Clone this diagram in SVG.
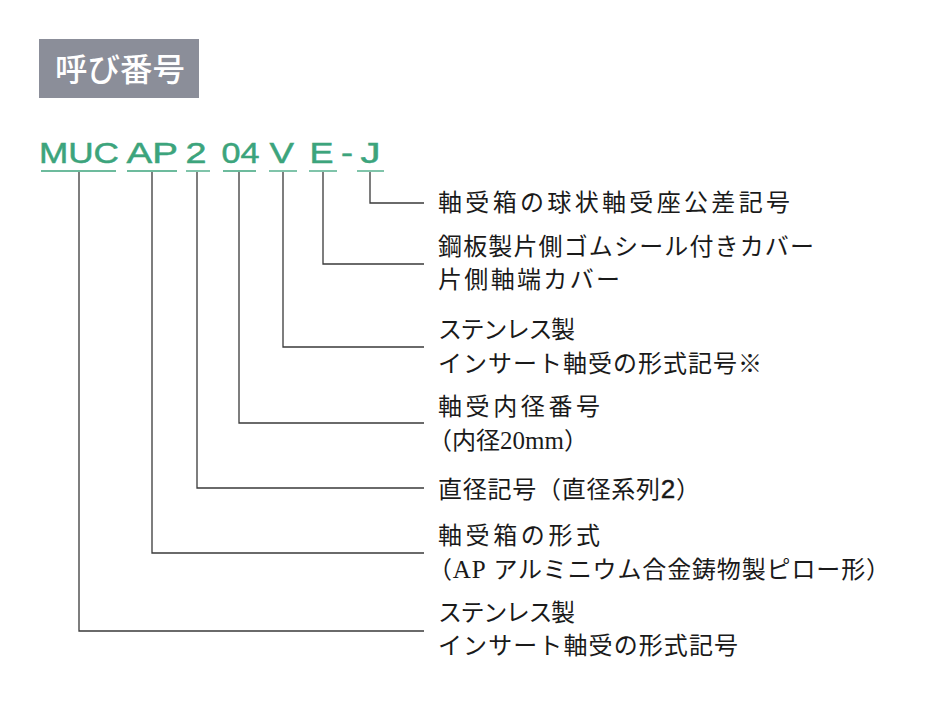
<svg xmlns="http://www.w3.org/2000/svg" width="940" height="708" viewBox="0 0 940 708">
<style>
.code{font-family:"Liberation Sans",Arial,sans-serif;font-size:30px;fill:#3ca47c;stroke:#3ca47c;stroke-width:0.5}
.ul{stroke:#3ca47c;stroke-width:1.3;fill:none}
.lbl{font-family:"Liberation Serif","Noto Sans CJK JP",serif;font-size:24px;fill:#1a1a1a}
.lat{font-size:25px}
.conn{stroke:#3a3a3a;stroke-width:1.3;fill:none}
</style>
<rect width="940" height="708" fill="#ffffff"/>
<g id="header">
<rect x="39" y="39" width="160" height="59" fill="#8b8e99"/>
<text x="55" y="81" font-family="'Noto Sans CJK JP',sans-serif" font-size="32" font-weight="500" fill="#ffffff" textLength="130" lengthAdjust="spacingAndGlyphs">呼び番号</text>
</g>
<g id="code">
<g id="seg-MUC"><text class="code" x="39" y="163" textLength="80" lengthAdjust="spacingAndGlyphs">MUC</text><line class="ul" x1="41" y1="171" x2="116" y2="171"/></g>
<g id="seg-AP"><text class="code" x="126.5" y="163" textLength="51.5" lengthAdjust="spacingAndGlyphs">AP</text><line class="ul" x1="127" y1="171" x2="177" y2="171"/></g>
<g id="seg-2"><text class="code" x="185.5" y="163" textLength="21" lengthAdjust="spacingAndGlyphs">2</text><line class="ul" x1="186" y1="171" x2="210" y2="171"/></g>
<g id="seg-04"><text class="code" x="221.5" y="163" textLength="38" lengthAdjust="spacingAndGlyphs">04</text><line class="ul" x1="223" y1="171" x2="256" y2="171"/></g>
<g id="seg-V"><text class="code" x="269.5" y="163" textLength="24.5" lengthAdjust="spacingAndGlyphs">V</text><line class="ul" x1="269" y1="171" x2="297" y2="171"/></g>
<g id="seg-E"><text class="code" x="309.5" y="163" textLength="24" lengthAdjust="spacingAndGlyphs">E</text><line class="ul" x1="309" y1="171" x2="337" y2="171"/></g>
<g id="seg-dash"><text class="code" x="341" y="163" textLength="12" lengthAdjust="spacingAndGlyphs">-</text></g>
<g id="seg-J"><text class="code" x="360.5" y="163" textLength="20" lengthAdjust="spacingAndGlyphs">J</text><line class="ul" x1="357" y1="171" x2="384" y2="171"/></g>
</g>
<g id="connectors">
<path class="conn" d="M370,172 V203 H424"/>
<path class="conn" d="M323,172 V264 H424"/>
<path class="conn" d="M283,172 V347 H424"/>
<path class="conn" d="M239,172 V423 H424"/>
<path class="conn" d="M197,172 V488 H424"/>
<path class="conn" d="M152,172 V553 H424"/>
<path class="conn" d="M79,172 V631 H424"/>
</g>
<g id="label-J"><text class="lbl" x="438" y="211" textLength="352" lengthAdjust="spacing">軸受箱の球状軸受座公差記号</text></g>
<g id="label-E"><text class="lbl" x="438" y="255" textLength="376" lengthAdjust="spacing">鋼板製片側ゴムシール付きカバー</text><text class="lbl" x="438" y="288" textLength="182" lengthAdjust="spacing">片側軸端カバー</text></g>
<g id="label-V"><text class="lbl" x="438" y="338" textLength="137" lengthAdjust="spacing">ステンレス製</text><text class="lbl" x="438" y="372" textLength="324" lengthAdjust="spacing">インサート軸受の形式記号※</text></g>
<g id="label-04"><text class="lbl" x="438" y="415" textLength="162" lengthAdjust="spacing">軸受内径番号</text><text class="lbl" x="428" y="449">（内径<tspan class="lat">20mm</tspan>）</text></g>
<g id="label-2"><text class="lbl" x="438" y="498" textLength="262" lengthAdjust="spacing">直径記号（直径系列<tspan font-family="'Liberation Sans',sans-serif" font-size="26" stroke="#1a1a1a" stroke-width="0.4">2</tspan>）</text></g>
<g id="label-AP"><text class="lbl" x="438" y="544" textLength="162" lengthAdjust="spacing">軸受箱の形式</text><text class="lbl" x="428" y="578" textLength="462" lengthAdjust="spacing">（<tspan class="lat">AP</tspan> アルミニウム合金鋳物製ピロー形）</text></g>
<g id="label-MUC"><text class="lbl" x="438" y="621" textLength="137" lengthAdjust="spacing">ステンレス製</text><text class="lbl" x="438" y="654" textLength="300" lengthAdjust="spacing">インサート軸受の形式記号</text></g>
</svg>
